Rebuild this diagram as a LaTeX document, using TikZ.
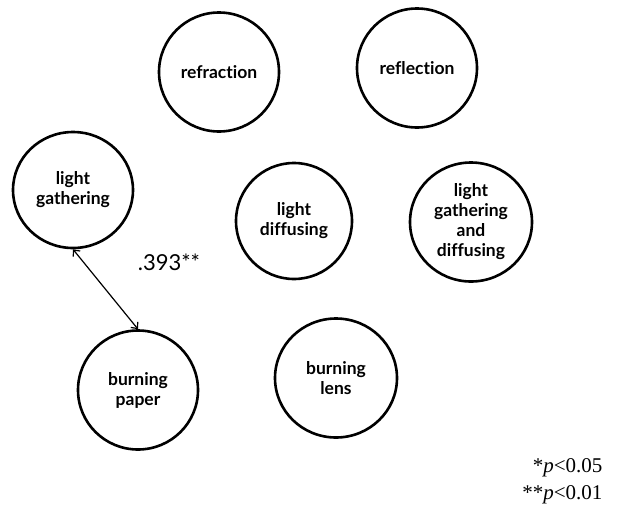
\documentclass[tikz,border=0pt]{standalone}
\usepackage{fontspec}
\usepackage{tikz}
\usetikzlibrary{arrows.meta,positioning,shapes.geometric}
\setsansfont{Lato}[Ligatures=NoCommon]
\newfontfamily\pvalfont{Liberation Serif}

\begin{document}
\begin{tikzpicture}[x=1pt,y=-1pt,
    concept/.style={ellipse,draw,line width=2.6pt,minimum width=120pt,minimum height=119pt,
      inner sep=0pt,align=center,font=\sffamily\bfseries\fontsize{17.5}{20}\selectfont}]
      \useasboundingbox (0,0) rectangle (621,509);
      \node[concept] (refr) at (219,72) {refraction};
      \node[concept] (refl) at (417,68) {reflection};
      \node[concept,minimum height=116pt] (gather) at (73,190) {light\\gathering};
      \node[concept,minimum width=116pt,minimum height=116pt] (diffuse) at (294,221) {light\\diffusing};
      \node[concept,minimum width=122pt] (both) at (471,222) {light\\gathering\\and\\diffusing};
      \node[concept] (paper) at (138,390) {burning\\paper};
      \node[concept,minimum width=122pt] (lens) at (336,378) {burning\\lens};
      %correlation
      \draw[{Straight Barb[length=5pt,width=9pt]}-{Straight Barb[length=5pt,width=9pt]},line width=1.2pt] (gather.south) -- (paper.north);
      \node[font=\sffamily\fontsize{22}{26}\selectfont] (corr) at (169,262) {.393**};
      \node[anchor=east,align=right,font=\pvalfont\fontsize{21}{27}\selectfont] (pval) at (606,481) {*\textit{p}<0.05\\**\textit{p}<0.01};
\end{tikzpicture}
\end{document}
